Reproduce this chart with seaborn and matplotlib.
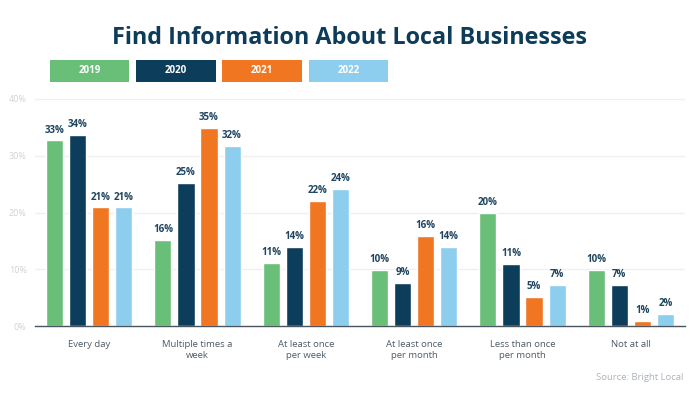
import matplotlib
matplotlib.use("Agg")
import matplotlib.pyplot as plt
from matplotlib.patches import Rectangle
import seaborn as sns
import pandas as pd

categories = ["Every day", "Multiple times a\nweek", "At least once\nper week",
              "At least once\nper month", "Less than once\nper month", "Not at all"]
years = ["2019", "2020", "2021", "2022"]
values = {
    "2019": [32.7, 15.2, 11.1, 9.9, 20.0, 9.9],
    "2020": [33.7, 25.2, 14.0, 7.6, 11.0, 7.2],
    "2021": [20.9, 34.9, 22.0, 15.9, 5.1, 0.9],
    "2022": [20.9, 31.7, 24.1, 14.0, 7.2, 2.2],
}
labels = {
    "2019": ["33%", "16%", "11%", "10%", "20%", "10%"],
    "2020": ["34%", "25%", "14%", "9%", "11%", "7%"],
    "2021": ["21%", "35%", "22%", "16%", "5%", "1%"],
    "2022": ["21%", "32%", "24%", "14%", "7%", "2%"],
}
colors = ["#6abf78", "#0c3d5b", "#f07622", "#8dcdee"]
yticks = [0, 10, 20, 30, 40]
ytick_labels = ["0%", "10%", "20%", "30%", "40%"]

rows = []
for y in years:
    for c, v in zip(categories, values[y]):
        rows.append({"category": c, "year": y, "value": v})
df = pd.DataFrame(rows)

sns.set_theme(style="white")
plt.rcParams["font.family"] = ["Open Sans", "DejaVu Sans"]

fig = plt.figure(figsize=(7, 3.93), dpi=100)
ax = fig.add_axes([35 / 700, 1 - 326 / 393, 650 / 700, 227 / 393])

sns.barplot(data=df, x="category", y="value", hue="year", hue_order=years,
            palette=colors, width=0.85, gap=0.26, legend=False, ax=ax,
            saturation=1, order=categories)

for cont, y in zip(ax.containers, years):
    ax.bar_label(cont, labels=labels[y], padding=3.5, fontsize=7,
                 fontweight="bold", color="#1f4560")

ax.set_xlim(-0.5, 5.5)
ax.set_ylim(0, 40)
ax.set_yticks(yticks)
ax.set_yticklabels(ytick_labels, fontsize=6.5, color="#cfd3d6")
ax.tick_params(axis="y", length=0, pad=6)
ax.tick_params(axis="x", length=0, pad=10, labelsize=6.8, labelcolor="#4d5b66")
for t in ax.get_xticklabels():
    t.set_linespacing(1.35)
ax.set_xlabel("")
ax.set_ylabel("")
ax.yaxis.grid(True, color="#efefef", linewidth=0.9)
ax.set_axisbelow(True)
for s in ["top", "right", "left"]:
    ax.spines[s].set_visible(False)
ax.spines["bottom"].set_color("#4a5560")
ax.spines["bottom"].set_linewidth(1.0)

fig.text(0.5, 1 - 43.5 / 393, "Find Information About Local Businesses",
         ha="center", va="baseline", fontsize=16.8, fontweight="bold",
         color="#0d3c5a")

boxes = [(50, 129), (136, 216), (222, 302), (309, 388)]
for (x0, x1), y, col in zip(boxes, years, colors):
    fig.patches.append(Rectangle((x0 / 700, 1 - 81.5 / 393), (x1 - x0) / 700,
                                 21.5 / 393, transform=fig.transFigure,
                                 facecolor=col, edgecolor="none"))
    fig.text((x0 + x1) / 2 / 700, 1 - 70.8 / 393, y, ha="center", va="center",
             fontsize=7, fontweight="bold", color="white")

fig.text(683 / 700, 1 - 377 / 393, "Source: Bright Local", ha="right",
         va="center", fontsize=6.8, color="#aab3bb")

fig.savefig("out.png", dpi=100, facecolor="white")
